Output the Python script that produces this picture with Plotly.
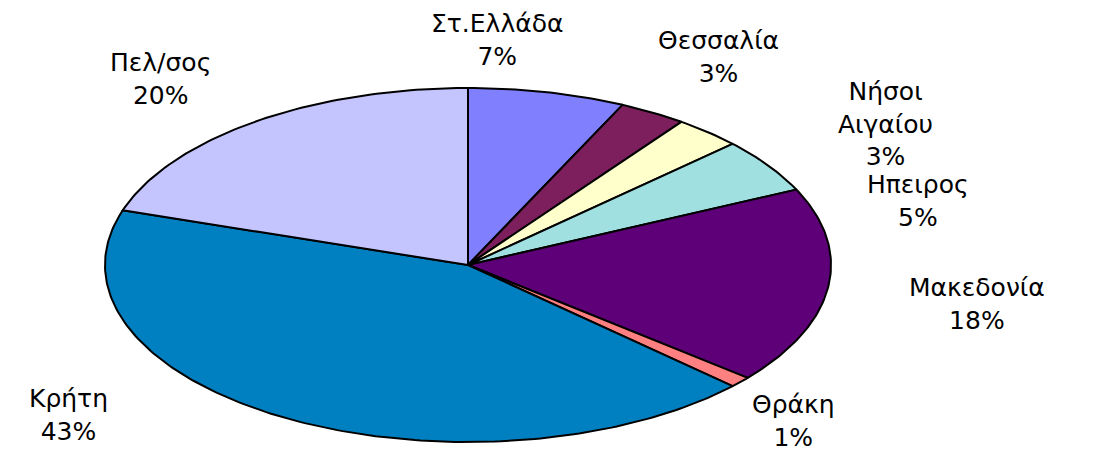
import numpy as np
import plotly.graph_objects as go

regions = ["Στ.Ελλάδα", "Θεσσαλία", "Νήσοι<br>Αιγαίου", "Ηπειρος", "Μακεδονία", "Θράκη", "Κρήτη", "Πελ/σος"]
shares = [7, 3, 3, 5, 18, 1, 43, 20]
colors = ["#8080FF", "#7D1F5C", "#FFFFCC", "#A0E0E0", "#5E0078", "#FF8080", "#0080C0", "#C4C4FF"]

# label positions in pixels (center of text block)
label_pos = [(497, 40), (718, 57), (885, 124), (918, 201), (977, 304), (793, 421), (68, 415), (160, 79)]

W, H = 1095, 455
cx, cy, rx, ry = 468, 265, 363, 177

fig = go.Figure()
total = sum(shares)
start = 0.0
for name, v, c in zip(regions, shares, colors):
    a0 = start / total * 2 * np.pi
    a1 = (start + v) / total * 2 * np.pi
    t = np.linspace(a0, a1, max(int(v * 4), 8))
    xs = np.concatenate([[0], np.sin(t), [0]])
    ys = np.concatenate([[0], np.cos(t), [0]])
    fig.add_trace(go.Scatter(x=xs, y=ys, fill="toself", fillcolor=c, mode="lines",
                             line=dict(color="black", width=2), hoverinfo="skip",
                             showlegend=False))
    start += v

for name, v, (px, py) in zip(regions, shares, label_pos):
    fig.add_annotation(x=px / W, y=1 - py / H, xref="paper", yref="paper",
                       xanchor="center", yanchor="middle",
                       text=f"{name}<br>{v}%", showarrow=False, align="center",
                       font=dict(family="DejaVu Sans", size=25, color="black"))

fig.update_xaxes(range=[-cx / rx, (W - cx) / rx], visible=False, fixedrange=True)
fig.update_yaxes(range=[-(H - cy) / ry, cy / ry], visible=False, fixedrange=True)
fig.update_layout(width=W, height=H, margin=dict(l=0, r=0, t=0, b=0),
                  plot_bgcolor="white", paper_bgcolor="white")
fig.write_html("out.html", config={"displayModeBar": False},
               post_script="document.body.style.margin='0';document.body.style.overflow='hidden';")
